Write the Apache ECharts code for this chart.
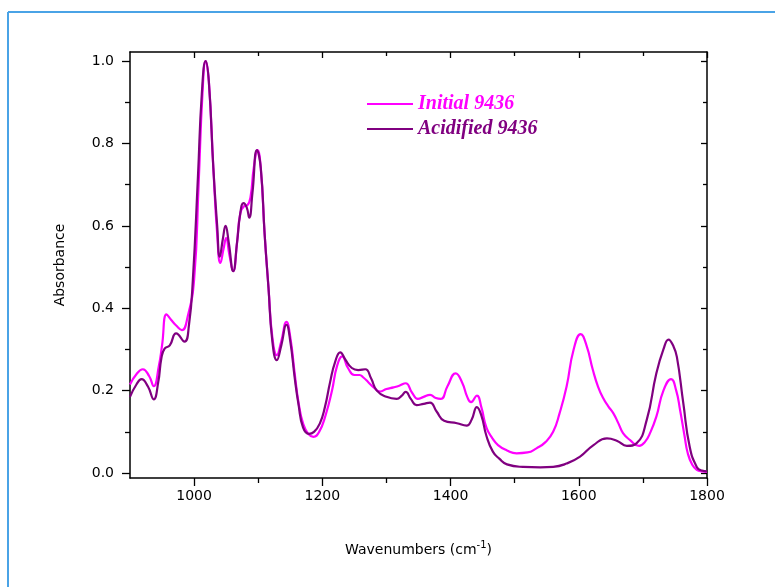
<!DOCTYPE html>
<html>
<head>
<meta charset="utf-8">
<script src="https://cdn.jsdelivr.net/npm/echarts@6/dist/echarts.min.js"></script>
<style>
html,body{margin:0;padding:0;background:#fff;}
#chart{width:775px;height:587px;}
</style>
</head>
<body>
<div id="chart"></div>
<script>
// ---- data ----
const initialWn = [900,910,920,930,937,945,950,957,964,972,981,990,1000,1007,1013,1018,1023,1030,1036,1041,1046,1050,1055,1061,1067,1072,1078,1083,1088,1093,1099,1104,1110,1116,1122,1129,1136,1144,1150,1157,1163,1170,1178,1186,1195,1205,1215,1223,1231,1240,1250,1258,1264,1272,1280,1290,1300,1311,1320,1330,1340,1349,1358,1368,1377,1385,1395,1408,1418,1426,1432,1441,1448,1456,1465,1474,1488,1503,1520,1534,1548,1560,1570,1581,1592,1603,1612,1622,1630,1638,1646,1654,1662,1669,1680,1694,1703,1712,1721,1732,1744,1752,1758,1765,1770,1777,1784,1792,1800];
const initialAbs = [0.215,0.240,0.252,0.235,0.211,0.26,0.31,0.385,0.372,0.358,0.347,0.38,0.47,0.70,0.92,1.0,0.95,0.74,0.58,0.51,0.545,0.57,0.53,0.49,0.56,0.63,0.648,0.65,0.67,0.74,0.784,0.74,0.58,0.45,0.33,0.286,0.32,0.367,0.33,0.24,0.17,0.12,0.095,0.088,0.1,0.14,0.2,0.26,0.283,0.255,0.238,0.238,0.232,0.22,0.208,0.198,0.204,0.208,0.212,0.218,0.195,0.18,0.185,0.19,0.182,0.18,0.21,0.242,0.22,0.185,0.172,0.188,0.16,0.11,0.085,0.068,0.055,0.048,0.05,0.06,0.075,0.1,0.145,0.21,0.3,0.337,0.31,0.25,0.21,0.182,0.162,0.145,0.12,0.097,0.08,0.066,0.075,0.1,0.137,0.2,0.228,0.2,0.153,0.09,0.048,0.02,0.008,0.004,0.003];
const acidWn = [900,910,918,928,937,944,949,954,962,972,985,992,998,1006,1012,1018,1023,1030,1036,1040,1045,1049,1054,1061,1067,1072,1077,1082,1086,1091,1098,1104,1110,1116,1122,1129,1136,1144,1150,1157,1163,1170,1179,1187,1196,1204,1212,1220,1228,1236,1246,1256,1267,1276,1285,1300,1316,1324,1330,1338,1347,1358,1368,1378,1390,1410,1425,1433,1441,1448,1456,1466,1476,1488,1513,1540,1560,1581,1602,1623,1644,1660,1675,1690,1706,1721,1732,1740,1747,1753,1763,1773,1784,1792,1800];
const acidAbs = [0.185,0.215,0.228,0.21,0.179,0.22,0.279,0.302,0.31,0.339,0.319,0.36,0.468,0.72,0.92,1.0,0.95,0.74,0.6,0.525,0.57,0.60,0.56,0.49,0.56,0.63,0.655,0.645,0.62,0.68,0.784,0.74,0.58,0.45,0.32,0.274,0.31,0.36,0.32,0.23,0.165,0.11,0.095,0.1,0.12,0.16,0.22,0.27,0.293,0.275,0.255,0.25,0.252,0.23,0.2,0.185,0.18,0.188,0.197,0.18,0.165,0.168,0.171,0.15,0.127,0.121,0.115,0.13,0.16,0.14,0.09,0.052,0.035,0.021,0.015,0.014,0.015,0.023,0.04,0.068,0.084,0.078,0.066,0.072,0.129,0.242,0.3,0.324,0.31,0.282,0.17,0.064,0.015,0.006,0.004];
const seriesNames = ['Initial 9436','Acidified 9436'];
const xMajorTicks = [1000,1200,1400,1600,1800];
const xMinorTicks = [1100,1300,1500,1700];
const yMajorTicks = [0,0.2,0.4,0.6,0.8,1.0];
const yMinorTicks = [0.1,0.3,0.5,0.7,0.9];

const colors = ['#FF00FF','#800080'];
const zip = (a,b) => a.map((v,i)=>[v,b[i]]);
const xMin = 900, xMax = 1800, yMin = -0.012, yMax = 1.022;
const lblFont = 'DejaVu Sans';

function xAx(pos, ticks, len, inside, showLine, showLabel){
  return {
    type:'value', position:pos, min:xMin, max:xMax,
    axisLine:{show:showLine, onZero:false, lineStyle:{color:'#000', width:1.5}},
    axisTick:{show:true, inside:inside, length:len, customValues:ticks, lineStyle:{color:'#000', width:1.3}},
    axisLabel:{show:showLabel, customValues:ticks, color:'#000', fontFamily:lblFont, fontSize:14, margin:11,
      formatter:(v)=>String(Math.round(v))},
    splitLine:{show:false}
  };
}
function yAx(pos, ticks, len, inside, showLine, showLabel){
  return {
    type:'value', position:pos, min:yMin, max:yMax,
    axisLine:{show:showLine, onZero:false, lineStyle:{color:'#000', width:1.5}},
    axisTick:{show:true, inside:inside, length:len, customValues:ticks, lineStyle:{color:'#000', width:1.3}},
    axisLabel:{show:showLabel, customValues:ticks, color:'#000', fontFamily:lblFont, fontSize:14, margin:16,
      formatter:(v)=>v.toFixed(1)},
    splitLine:{show:false}
  };
}

const xAxes = [
  xAx('bottom', xMajorTicks, 8, false, true, true),
  xAx('bottom', xMinorTicks, 5, false, false, false),
  xAx('top', xMajorTicks, 6, true, true, false),
  xAx('top', xMinorTicks, 4, true, false, false)
];
Object.assign(xAxes[0], {name:'Wavenumbers (cm{sup|-1})', nameLocation:'middle', nameGap:62,
  nameTextStyle:{color:'#000', fontFamily:lblFont, fontSize:14,
    rich:{sup:{fontSize:10, verticalAlign:'top', padding:[0,0,10,0], fontFamily:lblFont, color:'#000'}}}});
const yAxes = [
  yAx('left', yMajorTicks, 8, false, true, true),
  yAx('left', yMinorTicks, 5, false, false, false),
  yAx('right', yMajorTicks, 6, true, true, false),
  yAx('right', yMinorTicks, 4, true, false, false)
];
Object.assign(yAxes[0], {name:'Absorbance', nameLocation:'middle', nameGap:63, nameRotate:90,
  nameTextStyle:{color:'#000', fontFamily:lblFont, fontSize:14}});

const chart = echarts.init(document.getElementById('chart'), null, {renderer:'canvas'});
chart.setOption({
  animation:false,
  backgroundColor:'#fff',
  grid:{left:130, right:68, top:52, bottom:109, containLabel:false},
  xAxis:xAxes,
  yAxis:yAxes,
  legend:{
    orient:'vertical', left:362, top:88, itemWidth:46, itemHeight:2, itemGap:3,
    icon:'rect',
    data:[
      {name:seriesNames[0], textStyle:{color:colors[0]}},
      {name:seriesNames[1], textStyle:{color:colors[1]}}
    ],
    textStyle:{fontFamily:'Liberation Serif', fontStyle:'italic', fontWeight:'bold', fontSize:20, lineHeight:22}
  },
  graphic:[
    {type:'line', shape:{x1:8, y1:12, x2:775, y2:12}, style:{stroke:'#4aa3e6', lineWidth:2}},
    {type:'line', shape:{x1:8, y1:12, x2:8, y2:587}, style:{stroke:'#4aa3e6', lineWidth:2}}
  ],
  series:[
    {name:seriesNames[0], type:'line', data:zip(initialWn, initialAbs), smooth:0.5, symbol:'none',
      itemStyle:{color:colors[0]}, lineStyle:{color:colors[0], width:2.2}, z:2},
    {name:seriesNames[1], type:'line', data:zip(acidWn, acidAbs), smooth:0.5, symbol:'none',
      itemStyle:{color:colors[1]}, lineStyle:{color:colors[1], width:2.2}, z:3}
  ]
});
</script>
</body>
</html>
